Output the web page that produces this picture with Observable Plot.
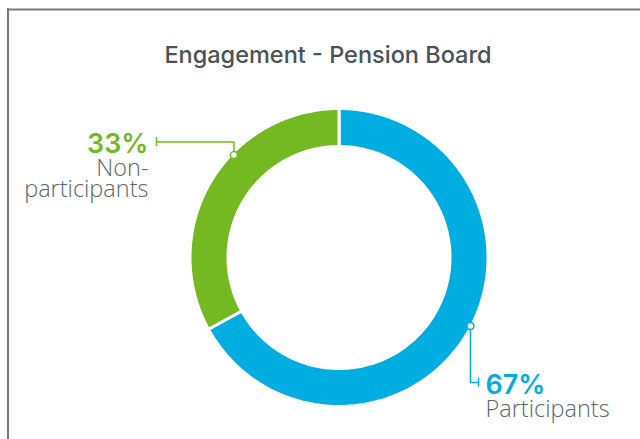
<!DOCTYPE html>
<html><head><meta charset="utf-8">
<script src="https://cdn.jsdelivr.net/npm/d3@7"></script>
<script src="https://cdn.jsdelivr.net/npm/@observablehq/plot@0.6"></script>
<style>html,body{margin:0;padding:0;background:#fff} svg{display:block}</style>
</head><body><div id="chart"></div>
<script>
// ---- data ----
const title = "Engagement - Pension Board";
const categories = ["Participants", "Non-participants"];
const values = [67, 33];
const colors = ["#00ade1", "#74b921"];
const pctLabels = ["67%", "33%"];
const nameLabels = [["Participants"], ["Non-", "participants"]];

// ---- layout ----
const W = 640, H = 439;
const cx = 339, cy = 257.5, rOuter = 149, rInner = 111; // 3px white stroke trims edges
const textGray = "#5b656c";

const arcs = d3.pie().sort(null).value(d => d)(values);
const ring = [];
arcs.forEach((a, i) => {
  const n = 240;
  for (let k = 0; k <= n; k++) {
    const t = a.startAngle + (a.endAngle - a.startAngle) * k / n;
    ring.push({
      cat: categories[i],
      x1: cx + rInner * Math.sin(t), y1: cy - rInner * Math.cos(t),
      x2: cx + rOuter * Math.sin(t), y2: cy - rOuter * Math.cos(t)
    });
  }
});

// callout anchors (angle in degrees clockwise from top, on outer edge)
const dotAngles = [117.4, -45.7];
const dots = dotAngles.map((deg, i) => {
  const t = deg * Math.PI / 180, r = 147.5;
  return {cat: categories[i], x: cx + r * Math.sin(t), y: cy - r * Math.cos(t)};
});

// label anchors
const labelPos = [
  {x: 485, yPct: 393, yName: 416, anchor: "start", elbowY: 382, tickX: 478},
  {x: 148, yPct: 152, yName: 175, anchor: "end", elbowY: 141.5, tickX: 156}
];

const leaders = [], ticks = [], pctText = [], nameText = [];
dots.forEach((d, i) => {
  const L = labelPos[i];
  leaders.push({cat: d.cat, x: d.x, y: d.y}, {cat: d.cat, x: d.x, y: L.elbowY}, {cat: d.cat, x: L.tickX, y: L.elbowY});
  ticks.push({cat: d.cat, x: L.tickX, y1: L.elbowY - 4.5, y2: L.elbowY + 4.5});
  pctText.push({cat: d.cat, x: L.x, y: L.yPct, text: pctLabels[i], anchor: L.anchor});
  nameLabels[i].forEach((s, j) => nameText.push({x: L.x, y: L.yName + j * 21, text: s, anchor: L.anchor}));
});

const textMarks = [];
for (const anchor of ["start", "end"]) {
  textMarks.push(
    Plot.text(pctText.filter(d => d.anchor === anchor), {x: "x", y: "y", text: "text", textAnchor: anchor, fill: "cat", fontSize: 27, fontWeight: 600, lineAnchor: "bottom", fontFamily: "Inter, sans-serif"}),
    Plot.text(nameText.filter(d => d.anchor === anchor), {x: "x", y: "y", text: "text", textAnchor: anchor, fill: textGray, fontSize: 23.5, fontWeight: 300, lineAnchor: "bottom", fontFamily: "'Open Sans', sans-serif"})
  );
}

const chart = Plot.plot({
  width: W, height: H,
  margin: 0,
  x: {type: "linear", domain: [0, W], range: [0, W], axis: null},
  y: {type: "linear", domain: [0, H], range: [0, H], axis: null},
  color: {domain: categories, range: colors},
  style: {fontFamily: "Inter, 'Open Sans', sans-serif", background: "#fff"},
  marks: [
    Plot.ruleY([9], {x1: 7.5, x2: W, stroke: "#75797c", strokeWidth: 2}),
    Plot.ruleX([7.5], {y1: 8, y2: H, stroke: "#75797c", strokeWidth: 2}),
    Plot.text([title], {x: 327.5, y: 62, text: d => d, fontSize: 23.5, fontWeight: 500, fill: "#4a5157", lineAnchor: "bottom"}),
    Plot.area(ring, {x1: "x1", y1: "y1", x2: "x2", y2: "y2", z: "cat", fill: "cat", stroke: "white", strokeWidth: 3}),
    Plot.line(leaders, {x: "x", y: "y", z: "cat", stroke: "cat", strokeWidth: 1.5}),
    Plot.ruleX(ticks, {x: "x", y1: "y1", y2: "y2", stroke: "cat", strokeWidth: 1.5}),
    Plot.dot(dots, {x: "x", y: "y", r: 3.5, fill: "white", stroke: "cat", strokeWidth: 1.5}),
    ...textMarks
  ]
});
document.getElementById("chart").appendChild(chart);
</script>
</body></html>
